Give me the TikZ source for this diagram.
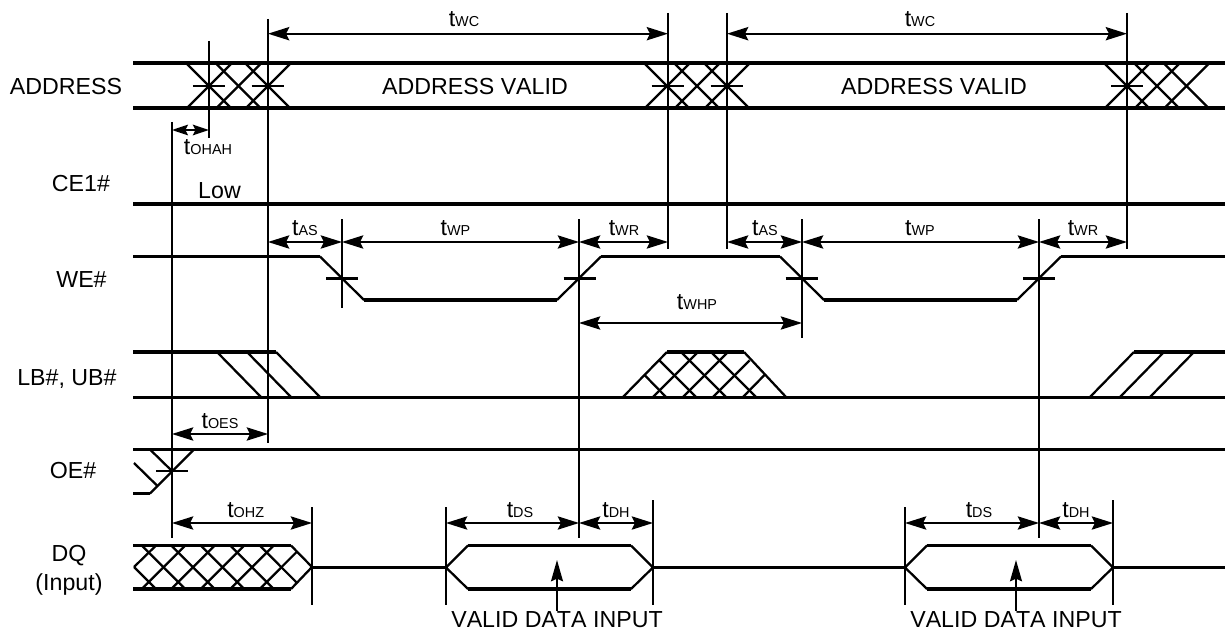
\documentclass[tikz,border=0pt]{standalone}
\usepackage{fontspec}
\setmainfont[Kerning=Off]{Liberation Sans}
\usetikzlibrary{arrows.meta}
\newcommand{\tsub}[1]{t{\fontsize{10.8}{12}\selectfont #1}}
\tikzset{
  sigline/.style={line width=2.3pt},
  hatch/.style={line width=1.7pt},
  marker/.style={line width=1.6pt},
  dimline/.style={line width=1.3pt,{Stealth[length=16pt,width=10pt,inset=2.5pt]}-{Stealth[length=16pt,width=10pt,inset=2.5pt]}},
  dimsmall/.style={line width=1.3pt,{Stealth[length=12pt,width=8pt,inset=2pt]}-{Stealth[length=12pt,width=8pt,inset=2pt]}},
  lbl/.style={font=\fontsize{17.4}{20}\selectfont,inner sep=0pt,anchor=base},
}
\begin{document}
\begin{tikzpicture}[x=0.75pt,y=-0.75pt]
\useasboundingbox (0,0) rectangle (1225,635);
% ADDRESS
\draw[sigline] (133,63) -- (1225,63);
\draw[sigline] (133,108) -- (1225,108);
\foreach \x in {187,216.5,246,645,675,705,1105,1135,1164.5} {
  \draw[hatch] (\x,64) -- ++(44,44);
  \draw[hatch] (\x,108) -- ++(44,-44);
}
% CE1#
\draw[sigline] (133,204) -- (1225,204);
% WE#
\draw[sigline] (133,256.5) -- (320,256.5);
\draw[sigline] (364,300) -- (557,300);
\draw[sigline] (601,256.5) -- (780,256.5);
\draw[sigline] (824,300) -- (1017,300);
\draw[sigline] (1061,256.5) -- (1225,256.5);
\foreach \a/\b/\c/\d in {320/256.5/364/300,557/300/601/256.5,780/256.5/824/300,1017/300/1061/256.5} {
  \draw[hatch] (\a,\b) -- (\c,\d);
}
% LB#, UB#
\draw[sigline] (133,352) -- (276,352);
\draw[sigline] (133,397.5) -- (1225,397.5);
\draw[sigline] (667,352) -- (744,352);
\draw[sigline] (1134,352) -- (1225,352);
\foreach \x in {217,247,276} {
  \draw[hatch] (\x,352) -- ++(44,45);
}
\draw[hatch] (623,397) -- (667,352);
\draw[hatch] (653,397) -- (698,352);
\draw[hatch] (683,397) -- (728,352);
\draw[hatch] (713,397) -- (749.5,360.5);
\draw[hatch] (743,397) -- (764.5,375);
\draw[hatch] (786,397) -- (744,352);
\draw[hatch] (756,397) -- (711,352);
\draw[hatch] (726,397) -- (681,352);
\draw[hatch] (696,397) -- (659.5,360.5);
\draw[hatch] (666,397) -- (644.5,375);
\foreach \x in {1090,1120,1150} {
  \draw[hatch] (\x,397) -- ++(44,-45);
}
% OE#
\draw[sigline] (133,449.5) -- (1225,449.5);
\draw[sigline] (133,493.5) -- (150,493.5);
\draw[hatch] (150,493.5) -- (194,449.5);
\draw[hatch] (150,449.5) -- (172,471);
\draw[hatch] (134,463) -- (157,485.5);
% DQ
\draw[sigline] (133,545.5) -- (291,545.5);
\draw[sigline] (133,589) -- (291,589);
\draw[hatch] (291,545.5) -- (312,567) -- (291,589);
\draw[hatch] (134,567) -- (156,545.5);
\draw[hatch] (134,567) -- (156,589);
\foreach \x in {141.7,171.2,200.7,230.2} {
  \draw[hatch] (\x,545.5) -- ++(43.5,43.5);
  \draw[hatch] (\x,589) -- ++(43.5,-43.5);
}
\draw[hatch] (259.7,545.5) -- (297.1,583);
\draw[hatch] (259.7,589) -- (297.1,551.5);
\draw[sigline] (312,567.5) -- (446,567.5);
\draw[sigline] (653,567.5) -- (905,567.5);
\draw[sigline] (1113,567.5) -- (1225,567.5);
% data eyes
\foreach \l/\r in {446/653,905/1113} {
  \draw[sigline] (\l+22,545.5) -- (\r-22,545.5);
  \draw[sigline] (\l+22,589) -- (\r-22,589);
  \draw[hatch] (\l+22,545.5) -- (\l,567.5) -- (\l+22,589);
  \draw[hatch] (\r-22,545.5) -- (\r,567.5) -- (\r-22,589);
}
% vertical reference lines
\foreach \x/\a/\b in {172/122/538,208.8/41/138,268/19/443,668/13/249,727/13/249,1127/13/249,
    342/219/308,579/219/538,802/219/338,1039/219/538,
    312/507/605,446/507/605,653/500/605,905/507/605,1113/500/605} {
  \draw[marker] (\x,\a) -- (\x,\b);
}
% crossing ticks
\foreach \x/\y in {208.8/85.7,267.5/85.7,667.5/85.7,726.7/85.7,1127/85.7,
    342/278.5,579.5/278.5,801.5/278.5,1039/278.5,172/471} {
  \draw[marker] (\x-16,\y) -- (\x+16,\y);
}
% timing arrows
\foreach \a/\b/\y in {268/668/33.7,727/1127/33.7,
    268/342/242,342/579/242,579/668/242,727/802/242,802/1039/242,1039/1127/242,
    579/802/323,172/268/434,172/312/523,
    446/579/523,579/653/523,905/1039/523,1039/1113/523} {
  \draw[dimline] (\a,\y) -- (\b,\y);
}
\draw[dimsmall] (172,130) -- (208.8,130);
% signal names
\node[lbl] (addr) at (66,94.5) {ADDRESS};
\node[lbl] (ce) at (81,191) {CE1\#};
\node[lbl] (we) at (81.5,287) {WE\#};
\node[lbl] (lbub) at (67,385) {LB\#, UB\#};
\node[lbl] (oe) at (73,478) {OE\#};
\node[lbl] (dq) at (69,561) {DQ};
\node[lbl] (dqin) at (69,590) {(Input)};
\node[lbl] (low) at (219.5,198.5) {Low};
\node[lbl] (valid1) at (475,94.5) {ADDRESS VALID};
\node[lbl] (valid2) at (934,94.5) {ADDRESS VALID};
% timing names
\node[lbl] (twc1) at (464,27) {\tsub{WC}};
\node[lbl] (twc2) at (920,27) {\tsub{WC}};
\node[lbl] (tohah) at (208,154) {\tsub{OHAH}};
\node[lbl] (tas1) at (305,235) {\tsub{AS}};
\node[lbl] (twp1) at (455.5,235) {\tsub{WP}};
\node[lbl] (twr1) at (624,235) {\tsub{WR}};
\node[lbl] (tas2) at (765,235) {\tsub{AS}};
\node[lbl] (twp2) at (920,235) {\tsub{WP}};
\node[lbl] (twr2) at (1083,235) {\tsub{WR}};
\node[lbl] (twhp) at (697,309) {\tsub{WHP}};
\node[lbl] (toes) at (220,428) {\tsub{OES}};
\node[lbl] (tohz) at (245.7,517) {\tsub{OHZ}};
\node[lbl] (tds1) at (520,517) {\tsub{DS}};
\node[lbl] (tdh1) at (616,517) {\tsub{DH}};
\node[lbl] (tds2) at (979,517) {\tsub{DS}};
\node[lbl] (tdh2) at (1076,517) {\tsub{DH}};
% data input
\node[lbl] (vdi1) at (557,627) {VALID DATA INPUT};
\node[lbl] (vdi2) at (1016,627) {VALID DATA INPUT};
\coordinate (eye1) at (557,560);
\coordinate (eye2) at (1016,560);
\draw[line width=1.3pt,-{Stealth[length=16pt,width=9pt,inset=2pt]}] (vdi1.north) -- (eye1);
\draw[line width=1.3pt,-{Stealth[length=16pt,width=9pt,inset=2pt]}] (vdi2.north) -- (eye2);
\end{tikzpicture}
\end{document}
